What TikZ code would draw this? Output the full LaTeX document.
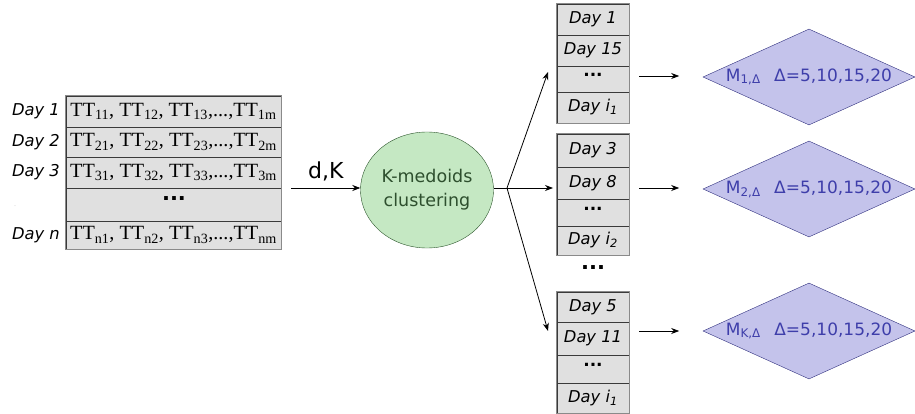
\documentclass[tikz,border=0pt]{standalone}
\usepackage{fontspec}
\setmainfont{Liberation Serif}
\setsansfont{DejaVu Sans}
\usetikzlibrary{shapes.geometric,arrows.meta}
\definecolor{cellfill}{HTML}{E0E0E0}
\definecolor{cellline}{HTML}{3A3A3A}
\definecolor{outerline}{HTML}{8A8A8A}
\definecolor{grfill}{HTML}{C5E8C3}
\definecolor{grline}{HTML}{2C562C}
\definecolor{grtext}{HTML}{2E4F2E}
\definecolor{blfill}{HTML}{C4C3EB}
\definecolor{blline}{HTML}{30307E}
\definecolor{bltext}{HTML}{3E3EAA}
\tikzset{
  lcell/.style={draw=cellline, fill=cellfill, minimum width=215pt, inner sep=0pt,
     font=\fontsize{20.2}{22}\selectfont},
  rcell/.style={draw=cellline, fill=cellfill, minimum width=72pt, inner sep=0pt,
     font=\sffamily\itshape\fontsize{16.3}{18}\selectfont},
  daylab/.style={anchor=east, inner sep=0pt, font=\sffamily\itshape\fontsize{16.3}{18}\selectfont},
  dotcell/.style={inner sep=0pt, font=\sffamily\bfseries\fontsize{17}{18}\selectfont},
  outerbox/.style={draw=outerline, line width=0.8pt},
  arr/.style={-{Stealth[length=8pt,width=6pt]}, line width=0.8pt},
  model/.style={diamond, aspect=2.2, draw=blline, fill=blfill, minimum width=212pt, minimum height=96pt,
     inner sep=0pt, text=bltext, font=\sffamily\fontsize{17}{20}\selectfont},
}
\begin{document}
\begin{tikzpicture}[x=1pt,y=-1pt]
\useasboundingbox (0,0) rectangle (915,414);
% left table
\node[lcell, minimum height=31pt] (r1) at (173.5,111.5) {TT\textsubscript{11}, TT\textsubscript{12}, TT\textsubscript{13},...,TT\textsubscript{1m}};
\node[lcell, minimum height=30pt] (r2) at (173.5,142) {TT\textsubscript{21}, TT\textsubscript{22}, TT\textsubscript{23},...,TT\textsubscript{2m}};
\node[lcell, minimum height=31pt] (r3) at (173.5,172.5) {TT\textsubscript{31}, TT\textsubscript{32}, TT\textsubscript{33},...,TT\textsubscript{3m}};
\node[lcell, minimum height=33pt] (r4) at (173.5,204.5) {};
\node[font=\sffamily\bfseries\fontsize{21}{22}\selectfont] (r4d) at (174,199) {...};
\node[lcell, minimum height=28pt] (r5) at (173.5,235) {TT\textsubscript{n1}, TT\textsubscript{n2}, TT\textsubscript{n3},...,TT\textsubscript{nm}};
\draw[outerbox] (r1.north west) rectangle (r5.south east);
\node[daylab] (d1) at (60,111.5) {Day 1};
\node[daylab] (d2) at (60,142) {Day 2};
\node[daylab] (d3) at (60,172.5) {Day 3};
\node[inner sep=0pt, text=gray!40, font=\fontsize{8}{9}\selectfont] (d4) at (15,206) {.};
\node[daylab] (d5) at (60,235) {Day \textit{n}};
% clustering
\node[ellipse, draw=grline, fill=grfill, minimum width=133pt, minimum height=116pt, inner sep=0pt,
  text=grtext, align=center, font=\sffamily\fontsize{17.5}{24}\selectfont] (km) at (427,190) {K-medoids\\clustering};
\draw[arr] (r3.east |- 0,188) ++(10,0) coordinate (ain) -- (km.west |- 0,188) node[midway, above=3pt, font=\sffamily\fontsize{22}{24}\selectfont] (dk) {d,K};
% right boxes
\node[rcell, minimum height=31pt] (a1) at (593,19.5) {Day 1};
\node[rcell, minimum height=31pt] (a2) at (593,50.5) {Day 15};
\node[rcell, minimum height=26pt] (a3) at (593,79) {};
\node[dotcell] (a3d) at (593,75) {...};
\node[rcell, minimum height=31pt] (a4) at (593,107.5) {Day \textit{i}\textsubscript{\textit{1}}};
\draw[outerbox] (a1.north west) rectangle (a4.south east);
\node[rcell, minimum height=33pt] (b1) at (593,150.5) {Day 3};
\node[rcell, minimum height=32pt] (b2) at (593,183) {Day 8};
\node[rcell, minimum height=27pt] (b3) at (593,212.5) {};
\node[dotcell] (b3d) at (593,208.5) {...};
\node[rcell, minimum height=29pt] (b4) at (593,240.5) {Day \textit{i}\textsubscript{\textit{2}}};
\draw[outerbox] (b1.north west) rectangle (b4.south east);
\node[font=\sffamily\bfseries\fontsize{21}{22}\selectfont] (mid) at (593,268) {...};
\node[rcell, minimum height=30pt] (c1) at (593,307) {Day 5};
\node[rcell, minimum height=33pt] (c2) at (593,338.5) {Day 11};
\node[rcell, minimum height=28pt] (c3) at (593,369) {};
\node[dotcell] (c3d) at (593,365) {...};
\node[rcell, minimum height=30pt] (c4) at (593,398) {Day \textit{i}\textsubscript{\textit{1}}};
\draw[outerbox] (c1.north west) rectangle (c4.south east);
% fan arrows
\coordinate (fan) at (507,188);
\coordinate (t1) at (548,72);
\coordinate (t2) at (553,188);
\coordinate (t3) at (548,331);
\draw[line width=0.8pt] (km.east |- fan) -- (fan);
\draw[arr] (fan) -- (t1);
\draw[arr] (fan) -- (t2);
\draw[arr] (fan) -- (t3);
% models
\node[model] (m1) at (809,77) {M\textsubscript{1,Δ}\hspace{0.8em}Δ=5,10,15,20};
\node[model] (m2) at (809,189) {M\textsubscript{2,Δ}\hspace{0.8em}Δ=5,10,15,20};
\node[model] (m3) at (809,331) {M\textsubscript{K,Δ}\hspace{0.8em}Δ=5,10,15,20};
\draw[arr] (a3.east |- 0,76) ++(10,0) -- ++(40,0) coordinate (e1);
\draw[arr] (b2.east |- 0,188) ++(10,0) -- ++(40,0) coordinate (e2);
\draw[arr] (c2.east |- 0,331) ++(10,0) -- ++(40,0) coordinate (e3);
\end{tikzpicture}
\end{document}
